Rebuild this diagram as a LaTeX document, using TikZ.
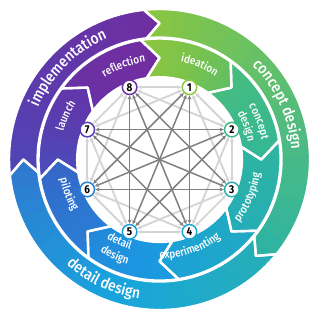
\documentclass[tikz,border=0pt]{standalone}
\usepackage{fontspec}
\setmainfont{Fira Sans Medium}[BoldFont={Fira Sans Bold}, FakeStretch=0.88]
\usetikzlibrary{arrows.meta, decorations.text}

% ring colours: start / middle / end of each band (clockwise)
\definecolor{implA}{RGB}{78,70,182}   \definecolor{implM}{RGB}{96,56,170}   \definecolor{implB}{RGB}{112,46,160}
\definecolor{concOA}{RGB}{141,198,63} \definecolor{concOM}{RGB}{88,190,118} \definecolor{concOB}{RGB}{44,178,165}
\definecolor{detOA}{RGB}{38,175,180}  \definecolor{detOM}{RGB}{24,165,222}  \definecolor{detOB}{RGB}{48,118,206}
\definecolor{reflA}{RGB}{104,50,165}  \definecolor{reflM}{RGB}{110,47,162}  \definecolor{reflB}{RGB}{114,45,160}
\definecolor{ideaA}{RGB}{143,198,62}  \definecolor{ideaM}{RGB}{122,195,76}  \definecolor{ideaB}{RGB}{94,190,102}
\definecolor{concA}{RGB}{72,188,124}  \definecolor{concM}{RGB}{62,186,138}  \definecolor{concB}{RGB}{50,183,152}
\definecolor{protoA}{RGB}{47,181,158} \definecolor{protoM}{RGB}{42,177,170} \definecolor{protoB}{RGB}{36,172,186}
\definecolor{experA}{RGB}{33,170,192} \definecolor{experM}{RGB}{30,165,205} \definecolor{experB}{RGB}{26,160,218}
\definecolor{detlA}{RGB}{26,157,222}  \definecolor{detlM}{RGB}{29,148,224}  \definecolor{detlB}{RGB}{36,134,218}
\definecolor{pilotA}{RGB}{40,128,214} \definecolor{pilotM}{RGB}{45,116,207} \definecolor{pilotB}{RGB}{55,100,198}
\definecolor{launchA}{RGB}{72,78,188} \definecolor{launchM}{RGB}{88,62,176} \definecolor{launchB}{RGB}{100,52,168}

\newcommand{\outerfont}{\fontsize{14.5}{14.5}\selectfont}
\newcommand{\innerfont}{\fontsize{10.5}{10.5}\selectfont}
\newcommand{\numfont}{\fontsize{10.5}{10.5}\selectfont\bfseries}

\tikzset{
  seg/.style n args={5}{insert path={({#1+#5}:#4) arc[start angle={#1+#5}, end angle={#2+#5}, radius=#4] -- ({#2}:{(#3+#4)/2}) -- ({#2+#5}:#3) arc[start angle={#2+#5}, end angle={#1+#5}, radius=#3] -- ({#1}:{(#3+#4)/2}) -- cycle}},
  gap/.style={draw=white, line width=2.2pt, line join=round},
  ringtext/.style={decorate, decoration={text along path, text align=center, text color=white, text={#1}}},
  num/.style={circle, fill=white, line width=1.4pt, minimum size=13.5pt, inner sep=0pt, font=\numfont},
  lite/.style={<->, draw=black!17, line width=1.7pt},
  dark/.style={<->, draw=black!50, line width=1.4pt},
}

% band from angle #1 to #2 (clockwise), radii #3..#4, chevron #5, colours #6 #7 #8
\newcommand{\ringpart}[8]{%
  \begin{scope}
    \clip[seg={#1}{#2}{#3}{#4}{#5}];
    \foreach \w in {0,...,23} {
      \pgfmathsetmacro\ta{#1+#5+1-(#1+#5+2-#2)*\w/24+0.4}
      \pgfmathsetmacro\tb{#1+#5+1-(#1+#5+2-#2)*(\w+1)/24-0.4}
      \pgfmathsetmacro\pp{(\w+0.5)/24*200}
      \ifdim\pp pt<100pt \colorlet{wc}{#7!\pp!#6}\else\pgfmathsetmacro\pp{\pp-100}\colorlet{wc}{#8!\pp!#7}\fi
      \fill[wc] (0,0) -- (\ta:180) -- (\tb:180) -- cycle;
    }
  \end{scope}}

\begin{document}
\begin{tikzpicture}[scale=0.03, >={Stealth[length=4pt,width=3.6pt]}]
  \fill[white] (-164,-166) rectangle (166,164);
  % outer ring
  \ringpart{180}{90}{132.5}{163.5}{6}{implA}{implM}{implB}
  \ringpart{90}{-45}{132.5}{163.5}{6}{concOA}{concOM}{concOB}
  \ringpart{-45}{-180}{132.5}{163.5}{6}{detOA}{detOM}{detOB}
  % inner ring
  \ringpart{135}{90}{89.5}{131.5}{9}{reflA}{reflM}{reflB}
  \ringpart{90}{45}{89.5}{131.5}{9}{ideaA}{ideaM}{ideaB}
  \ringpart{45}{0}{89.5}{131.5}{9}{concA}{concM}{concB}
  \ringpart{0}{-45}{89.5}{131.5}{9}{protoA}{protoM}{protoB}
  \ringpart{-45}{-90}{89.5}{131.5}{9}{experA}{experM}{experB}
  \ringpart{-90}{-135}{89.5}{131.5}{9}{detlA}{detlM}{detlB}
  \ringpart{-135}{-180}{89.5}{131.5}{9}{pilotA}{pilotM}{pilotB}
  \ringpart{-180}{-225}{89.5}{131.5}{9}{launchA}{launchM}{launchB}
  \foreach \a/\b in {180/90, 90/-45, -45/-180} \draw[gap, seg={\a}{\b}{132.5}{163.5}{6}];
  \foreach \a in {135,90,...,-180} \draw[gap, seg={\a}{\a-45}{89.5}{131.5}{9}];

  % labels
  \path[ringtext={|\outerfont|implementation}] (195:143.5) arc[start angle=195, end angle=75, radius=143.5];
  \path[ringtext={|\outerfont|concept design}] (85:143.5) arc[start angle=85, end angle=-35, radius=143.5];
  \path[ringtext={|\outerfont|detail design}] (-175:152.5) arc[start angle=-175, end angle=-55, radius=152.5];
  \path[ringtext={|\innerfont|reflection}] (141:107) arc[start angle=141, end angle=81, radius=107];
  \path[ringtext={|\innerfont|ideation}] (97:109) arc[start angle=97, end angle=37, radius=109];
  \path[ringtext={|\innerfont|concept}] (51:113) arc[start angle=51, end angle=-9, radius=113];
  \path[ringtext={|\innerfont|design}] (51:98) arc[start angle=51, end angle=-9, radius=98];
  \path[ringtext={|\innerfont|prototyping}] (-58:110) arc[start angle=-58, end angle=12, radius=110];
  \path[ringtext={|\innerfont|experimenting}] (-106:108) arc[start angle=-106, end angle=-36, radius=108];
  \path[ringtext={|\innerfont|detail}] (-151:103) arc[start angle=-151, end angle=-81, radius=103];
  \path[ringtext={|\innerfont|design}] (-150:119) arc[start angle=-150, end angle=-80, radius=119];
  \path[ringtext={|\innerfont|piloting}] (-194:110) arc[start angle=-194, end angle=-124, radius=110];
  \path[ringtext={|\innerfont|launch}] (185:109) arc[start angle=185, end angle=125, radius=109];

  % stages
  \foreach \k/\ang/\col in {1/67.5/ideaA, 2/22.5/concM, 3/-22.5/protoM, 4/-67.5/experM, 5/-112.5/detlA, 6/-157.5/pilotA, 7/157.5/launchM, 8/112.5/reflM}
    \node[num, draw=\col] (n\k) at (\ang:85) {\k};

  % links between stages
  \foreach \i in {1,...,7}
    \foreach \j in {\i,...,8} {
      \pgfmathtruncatemacro\d{min(\j-\i,8-\j+\i)}
      \ifnum\d>0 \ifnum\d<3 \draw[lite] (n\i) -- (n\j); \fi\fi
    }
  \foreach \i in {1,...,7}
    \foreach \j in {\i,...,8} {
      \pgfmathtruncatemacro\d{min(\j-\i,8-\j+\i)}
      \ifnum\d>2 \draw[dark] (n\i) -- (n\j); \fi
    }
\end{tikzpicture}
\end{document}
